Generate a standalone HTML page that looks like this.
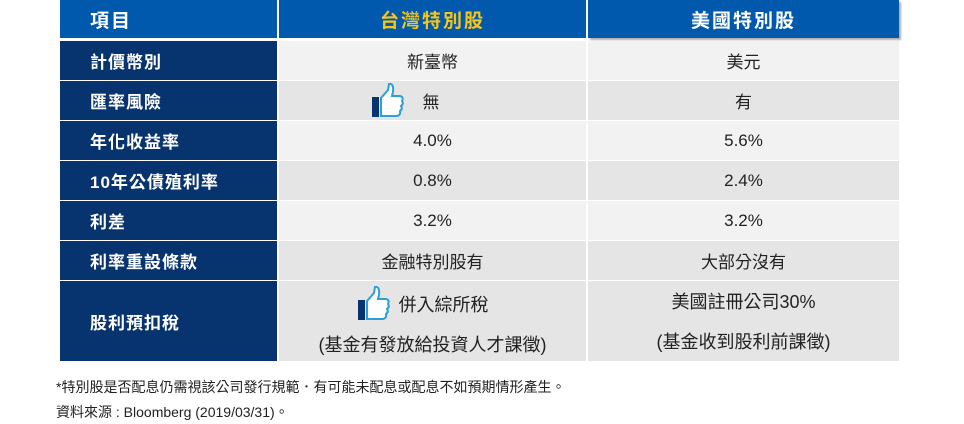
<!DOCTYPE html>
<html><head><meta charset="utf-8"><style>
body{margin:0;width:964px;height:424px;background:#fff;position:relative;overflow:hidden;font-family:"Liberation Sans","Noto Sans CJK TC",sans-serif}
.c{position:absolute;display:flex;align-items:center;box-sizing:border-box}
.h{background:#0159ad;color:#fff;font-weight:bold;font-size:19px;top:0;height:38px}
.l{background:#07336f;color:#fff;font-weight:bold;font-size:17px;left:60px;width:217px;padding-left:30px;letter-spacing:1px}
.v{justify-content:center;font-size:17px;color:#222}
.a{background:#f2f2f2}.b{background:#e5e5e5}
.foot{position:absolute;left:56px;font-size:14px;color:#222}
</style></head><body>
<div class="c h" style="left:60px;width:217px;padding-left:30px;letter-spacing:2px">項目</div>
<div class="c h" style="left:279px;width:307px;justify-content:center;color:#f5c518;letter-spacing:2px">台灣特別股</div>
<div class="c h" style="left:588px;width:311px;justify-content:center;letter-spacing:2px;box-shadow:2px 2px 2px #aaa">美國特別股</div>
<div id="rows"></div>
<div class="foot" style="top:377px">*特別股是否配息仍需視該公司發行規範．有可能未配息或配息不如預期情形產生。</div>
<div class="foot" style="top:402px">資料來源 : Bloomberg (2019/03/31)。</div>
<script>
const labels=["計價幣別","匯率風險","年化收益率","10年公債殖利率","利差","利率重設條款","股利預扣稅"];
const tw=["新臺幣","無","4.0%","0.8%","3.2%","金融特別股有","併入綜所稅|(基金有發放給投資人才課徵)"];
const us=["美元","有","5.6%","2.4%","3.2%","大部分沒有","美國註冊公司30%|(基金收到股利前課徵)"];
const thumbs=[1,6];
const tops=[41,81,121,161,201,241,281],hs=[39,39,39,39,39,39,80];
const bgs=["a","b","a","b","a","b","b"];
const thumbSvg='<svg width="34" height="36" viewBox="0 0 34 36" style="margin-right:8px"><rect x="1" y="14" width="7" height="20" fill="#07336f"/><path d="M10 15 L17 7 L18 1 Q23 0 22 9 L21 13 L29 13 Q33 14 31 18 Q33 21 30 23 Q32 26 29 28 Q30 32 26 33 L10 33 Z" fill="#fff" stroke="#2a9fd8" stroke-width="2"/></svg>';
const root=document.getElementById('rows');
labels.forEach((t,i)=>{
 const l=document.createElement('div');l.className='c l';l.style.top=tops[i]+'px';l.style.height=hs[i]+'px';l.textContent=t;
 
 
 root.appendChild(l);
 [[tw[i],279,307],[us[i],588,311]].forEach(([v,x,w],j)=>{
  const d=document.createElement('div');d.className='c v '+bgs[i];
  d.style.cssText+=`top:${tops[i]}px;height:${hs[i]}px;left:${x}px;width:${w}px;`;
  
  
  const parts=v.split('|');
  const thumb=(j===0&&thumbs.includes(i))?thumbSvg:'';
  if(parts.length>1){d.style.flexDirection='column';d.style.justifyContent='space-around';d.style.fontSize='18px';
   d.innerHTML=`<div style="display:flex;align-items:center;margin-left:${thumb?-20:0}px">${thumb}${parts[0]}</div><div>${parts[1]}</div>`;}
  else d.innerHTML=thumb?`<div style="display:flex;align-items:center;margin-left:-55px">${thumb}<span style="margin-left:10px">${v}</span></div>`:v;
  root.appendChild(d);
 });
});
</script>
</body></html>
